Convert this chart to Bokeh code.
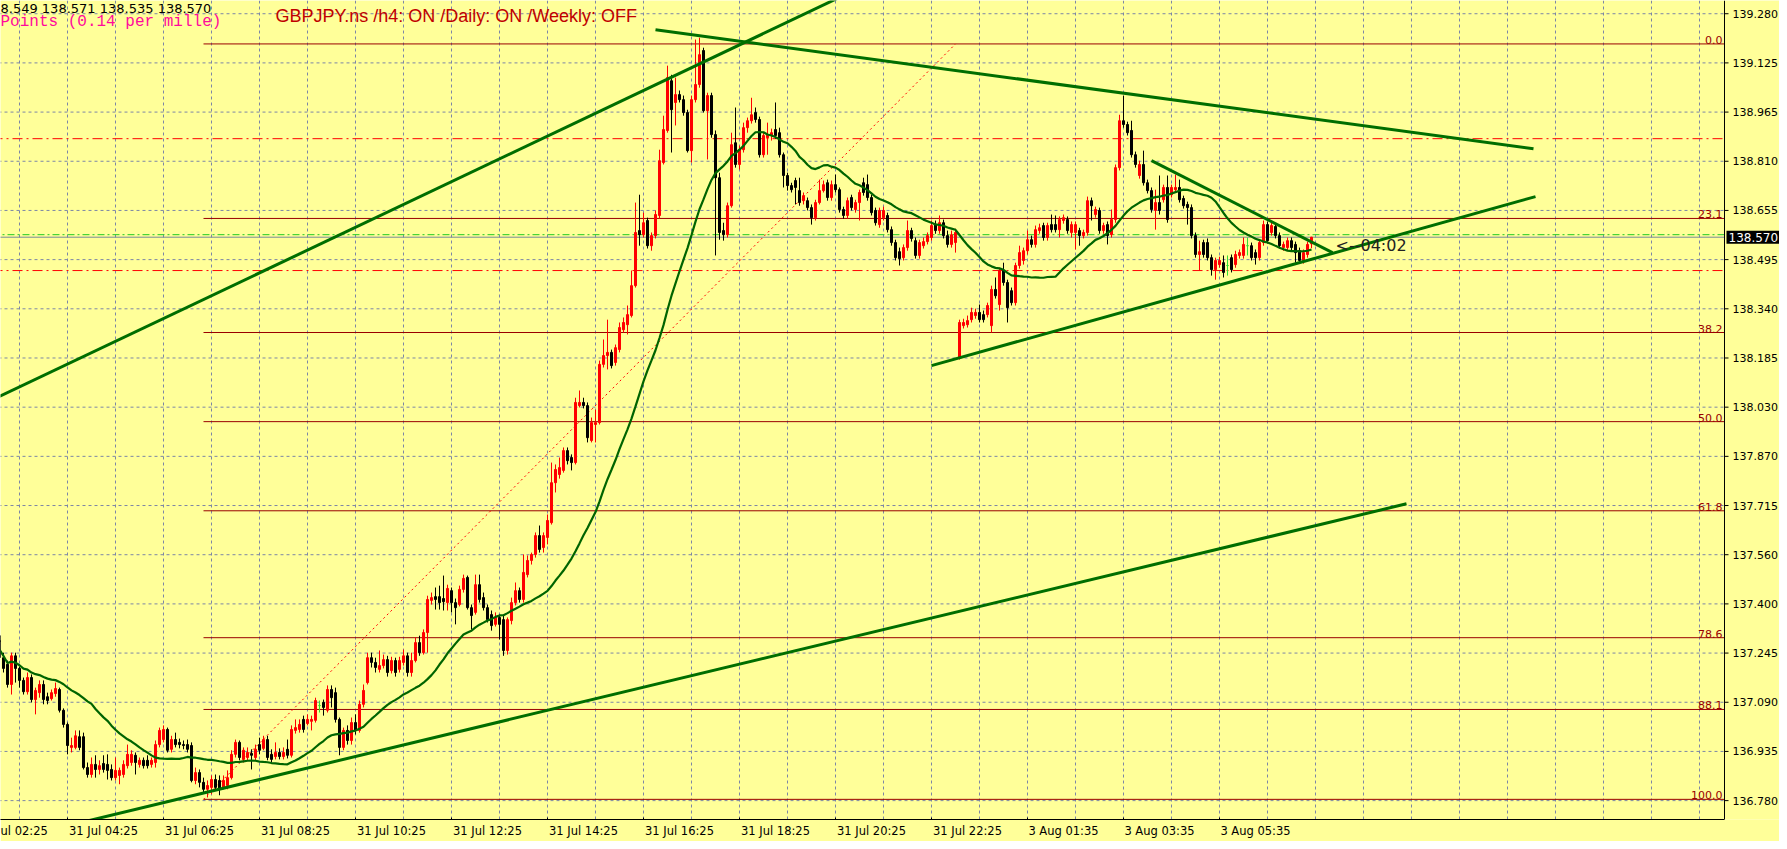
import pandas as pd
from bokeh.plotting import figure
from bokeh.models import Range1d, FixedTicker, Label, ColumnDataSource, Span
from bokeh.embed import file_html
from bokeh.resources import INLINE

# ---------------- data (GBPJPY M5) ----------------
opens = [137.304,137.289,137.234,137.213,137.149,137.240,137.200,137.162,137.126,137.171,
137.101,137.123,137.149,137.110,137.104,137.120,137.133,137.067,137.022,136.949,
136.949,136.983,136.983,136.885,136.863,136.895,136.879,136.898,136.895,136.879,
136.853,136.860,136.863,136.891,136.901,136.924,136.895,136.908,136.908,136.895,
136.901,136.958,136.974,137.006,136.943,136.974,136.965,136.958,136.958,136.955,
136.844,136.869,136.838,136.816,136.822,136.847,136.844,136.822,136.828,136.853,
136.927,136.965,136.911,136.917,136.930,136.917,136.958,136.946,136.974,136.927,
136.920,136.933,136.920,136.943,136.924,137.003,137.006,137.038,137.025,137.032,
137.035,137.082,137.092,137.067,137.133,137.123,137.038,136.949,137.003,136.971,
137.028,137.003,137.086,137.155,137.234,137.219,137.197,137.209,137.228,137.193,
137.225,137.197,137.219,137.240,137.187,137.225,137.282,137.250,137.314,137.416,
137.428,137.428,137.422,137.409,137.447,137.409,137.403,137.451,137.489,137.393,
137.378,137.466,137.425,137.393,137.371,137.340,137.362,137.355,137.257,137.352,
137.409,137.447,137.419,137.498,137.543,137.562,137.622,137.584,137.616,137.663,
137.790,137.816,137.829,137.892,137.870,137.854,138.035,138.045,138.035,137.924,
137.975,137.981,138.166,138.194,138.204,138.172,138.213,138.276,138.292,138.321,
138.416,138.591,138.578,138.623,138.543,138.575,138.639,138.807,138.909,139.067,
138.998,139.023,139.007,138.966,138.845,139.007,139.055,139.163,138.972,139.020,
138.896,138.759,138.591,138.578,138.670,138.870,138.801,138.848,138.918,138.940,
138.966,138.944,138.832,138.886,138.893,138.912,138.902,138.832,138.766,138.734,
138.750,138.718,138.686,138.686,138.664,138.632,138.680,138.718,138.743,138.696,
138.737,138.721,138.658,138.639,138.696,138.658,138.680,138.743,138.737,138.696,
138.655,138.610,138.632,138.639,138.594,138.553,138.524,138.505,138.537,138.591,
138.559,138.512,138.543,138.556,138.569,138.610,138.591,138.616,138.575,138.547,
138.553,138.188,138.289,138.292,138.308,138.321,138.331,138.324,138.324,138.289,
138.404,138.356,138.464,138.426,138.400,138.362,138.480,138.496,138.527,138.562,
138.547,138.591,138.607,138.569,138.610,138.610,138.594,138.623,138.626,138.585,
138.585,138.591,138.575,138.585,138.686,138.642,138.655,138.591,138.610,138.578,
138.626,138.791,138.940,138.928,138.909,138.832,138.766,138.801,138.743,138.718,
138.655,138.680,138.689,138.728,138.705,138.721,138.728,138.693,138.674,138.664,
138.575,138.515,138.553,138.553,138.505,138.467,138.483,138.489,138.480,138.505,
138.483,138.512,138.512,138.543,138.543,138.521,138.505,138.553,138.610,138.585,
138.604,138.575,138.537,138.537,138.559,138.547,138.527,138.496,138.515,138.549]

highs = [137.336,137.353,137.250,137.225,137.250,137.250,137.206,137.171,137.187,137.181,
137.139,137.162,137.162,137.123,137.133,137.155,137.139,137.073,137.028,136.980,
137.003,137.003,136.996,136.901,136.917,136.924,136.908,136.924,136.927,136.895,
136.917,136.885,136.908,136.958,136.940,136.933,136.917,136.917,136.924,136.917,
136.971,137.012,137.019,137.012,136.986,136.996,136.977,136.971,136.974,136.965,
136.885,136.879,136.853,136.844,136.860,136.863,136.860,136.860,136.876,136.940,
136.974,136.971,136.949,136.949,136.943,136.958,136.980,136.986,136.986,136.943,
136.965,136.946,136.949,136.974,137.019,137.038,137.038,137.050,137.054,137.050,
137.107,137.098,137.101,137.146,137.146,137.139,137.044,137.012,137.019,137.044,
137.054,137.098,137.149,137.250,137.250,137.234,137.257,137.244,137.240,137.237,
137.234,137.237,137.260,137.250,137.250,137.298,137.304,137.324,137.431,137.441,
137.457,137.463,137.495,137.466,137.457,137.422,137.463,137.498,137.495,137.403,
137.498,137.498,137.441,137.403,137.384,137.378,137.371,137.368,137.362,137.425,
137.473,137.457,137.562,137.559,137.568,137.632,137.654,137.632,137.689,137.854,
137.848,137.870,137.902,137.902,137.880,138.060,138.083,138.060,138.045,137.997,
138.022,138.178,138.245,138.308,138.213,138.229,138.299,138.315,138.353,138.464,
138.680,138.705,138.648,138.632,138.585,138.655,138.848,138.956,139.115,139.086,
139.077,139.036,139.020,138.975,139.020,139.198,139.204,139.172,139.029,139.029,
138.909,138.775,138.616,138.680,138.902,138.982,138.861,138.934,138.950,139.013,
138.982,138.953,138.902,138.934,138.915,138.998,138.918,138.839,138.775,138.743,
138.759,138.759,138.712,138.696,138.674,138.689,138.753,138.750,138.753,138.750,
138.769,138.728,138.667,138.696,138.705,138.689,138.721,138.759,138.769,138.705,
138.664,138.664,138.667,138.648,138.604,138.562,138.537,138.547,138.623,138.600,
138.569,138.562,138.569,138.585,138.623,138.623,138.639,138.626,138.591,138.591,
138.597,138.308,138.311,138.321,138.346,138.343,138.356,138.337,138.362,138.416,
138.442,138.473,138.489,138.435,138.410,138.489,138.543,138.537,138.591,138.575,
138.607,138.613,138.616,138.616,138.642,138.639,138.636,138.642,138.636,138.620,
138.620,138.600,138.594,138.699,138.696,138.667,138.664,138.616,138.620,138.658,
138.801,138.959,139.020,138.937,138.940,138.842,138.813,138.845,138.753,138.728,
138.721,138.766,138.737,138.766,138.737,138.769,138.753,138.702,138.683,138.674,
138.585,138.559,138.562,138.566,138.515,138.505,138.508,138.512,138.512,138.515,
138.527,138.531,138.569,138.569,138.553,138.531,138.562,138.623,138.620,138.616,
138.613,138.585,138.556,138.569,138.569,138.556,138.537,138.531,138.556,138.571]

lows = [137.276,137.228,137.187,137.139,137.117,137.155,137.139,137.117,137.117,137.092,
137.054,137.107,137.086,137.086,137.098,137.110,137.060,137.012,136.927,136.933,
136.943,136.940,136.879,136.853,136.853,136.853,136.863,136.869,136.847,136.844,
136.844,136.832,136.853,136.882,136.891,136.863,136.885,136.882,136.882,136.885,
136.885,136.949,136.965,136.933,136.933,136.949,136.946,136.943,136.933,136.838,
136.832,136.822,136.806,136.790,136.800,136.812,136.797,136.816,136.816,136.847,
136.917,136.908,136.901,136.908,136.879,136.908,136.927,136.940,136.908,136.901,
136.911,136.911,136.911,136.914,136.917,136.993,136.996,136.996,137.019,137.003,
137.028,137.060,137.050,137.060,137.076,137.028,136.924,136.940,136.958,136.958,
136.990,136.996,137.076,137.149,137.203,137.187,137.187,137.200,137.174,137.184,
137.174,137.187,137.209,137.174,137.174,137.219,137.240,137.244,137.250,137.403,
137.387,137.387,137.384,137.384,137.378,137.340,137.397,137.441,137.387,137.324,
137.371,137.409,137.384,137.346,137.320,137.333,137.292,137.240,137.244,137.340,
137.400,137.409,137.409,137.489,137.530,137.552,137.568,137.568,137.594,137.657,
137.759,137.803,137.822,137.848,137.829,137.848,138.029,138.026,137.918,137.918,
137.918,137.975,138.156,138.150,138.153,138.162,138.204,138.267,138.261,138.315,
138.410,138.543,138.569,138.534,138.527,138.566,138.629,138.801,138.902,138.839,
138.925,138.998,138.956,138.839,138.807,138.998,139.045,138.966,138.817,138.886,
138.512,138.562,138.559,138.569,138.664,138.791,138.785,138.839,138.902,138.931,
138.934,138.823,138.823,138.832,138.877,138.883,138.823,138.728,138.718,138.712,
138.674,138.670,138.674,138.655,138.610,138.623,138.674,138.712,138.686,138.686,
138.712,138.648,138.629,138.629,138.655,138.648,138.623,138.702,138.686,138.639,
138.607,138.600,138.623,138.585,138.543,138.496,138.480,138.496,138.527,138.556,
138.502,138.502,138.534,138.547,138.559,138.581,138.581,138.566,138.537,138.537,
138.521,138.181,138.280,138.283,138.299,138.311,138.299,138.299,138.315,138.267,
138.375,138.337,138.416,138.299,138.353,138.353,138.470,138.483,138.515,138.537,
138.537,138.581,138.559,138.559,138.585,138.585,138.569,138.613,138.581,138.569,
138.531,138.543,138.566,138.575,138.623,138.632,138.581,138.581,138.547,138.569,
138.616,138.782,138.918,138.893,138.823,138.791,138.756,138.734,138.709,138.648,
138.594,138.642,138.680,138.616,138.696,138.712,138.680,138.661,138.610,138.566,
138.505,138.464,138.505,138.496,138.448,138.435,138.473,138.442,138.448,138.458,
138.473,138.502,138.502,138.512,138.496,138.483,138.496,138.543,138.550,138.575,
138.566,138.534,138.527,138.527,138.527,138.489,138.486,138.486,138.505,138.535]

closes = [137.285,137.234,137.200,137.149,137.240,137.200,137.162,137.126,137.171,137.101,
137.130,137.149,137.101,137.098,137.123,137.136,137.067,137.022,136.955,136.955,
136.986,136.949,136.885,136.863,136.895,136.879,136.891,136.879,136.876,136.853,
136.876,136.876,136.895,136.927,136.927,136.901,136.908,136.891,136.891,136.908,
136.958,137.003,137.006,136.940,136.974,136.958,136.958,136.955,136.943,136.844,
136.869,136.838,136.816,136.828,136.847,136.822,136.819,136.844,136.853,136.927,
136.965,136.917,136.940,136.933,136.924,136.943,136.940,136.974,136.917,136.911,
136.933,136.920,136.933,136.924,137.006,137.012,137.022,137.006,137.038,137.038,
137.098,137.082,137.076,137.133,137.107,137.038,136.949,137.003,136.971,137.028,
137.003,137.086,137.130,137.234,137.219,137.203,137.209,137.228,137.187,137.225,
137.187,137.225,137.240,137.187,137.225,137.282,137.250,137.314,137.419,137.425,
137.419,137.409,137.412,137.454,137.409,137.393,137.451,137.486,137.393,137.368,
137.466,137.419,137.393,137.355,137.336,137.362,137.340,137.257,137.355,137.409,
137.447,137.419,137.505,137.543,137.562,137.622,137.578,137.622,137.670,137.790,
137.832,137.838,137.892,137.860,137.854,138.045,138.045,138.035,137.933,137.981,
137.981,138.166,138.194,138.204,138.162,138.219,138.283,138.299,138.324,138.416,
138.585,138.578,138.616,138.543,138.575,138.642,138.813,138.912,139.077,138.975,
139.023,139.007,138.966,138.845,139.007,139.055,139.150,138.972,139.020,138.896,
138.759,138.585,138.578,138.670,138.864,138.801,138.848,138.918,138.940,138.959,
138.944,138.832,138.893,138.896,138.902,138.893,138.832,138.766,138.734,138.721,
138.728,138.680,138.702,138.664,138.632,138.680,138.718,138.737,138.696,138.737,
138.721,138.658,138.639,138.686,138.664,138.680,138.712,138.712,138.696,138.648,
138.616,138.655,138.655,138.594,138.553,138.505,138.502,138.537,138.591,138.566,
138.512,138.553,138.556,138.575,138.607,138.591,138.616,138.575,138.547,138.578,
138.585,138.299,138.299,138.305,138.331,138.331,138.308,138.308,138.353,138.404,
138.384,138.464,138.426,138.346,138.362,138.480,138.521,138.527,138.562,138.547,
138.594,138.600,138.569,138.607,138.594,138.594,138.626,138.632,138.591,138.610,
138.610,138.575,138.585,138.686,138.670,138.658,138.591,138.607,138.575,138.626,
138.791,138.940,138.928,138.902,138.832,138.801,138.801,138.743,138.718,138.658,
138.680,138.655,138.728,138.626,138.728,138.728,138.689,138.670,138.664,138.575,
138.515,138.524,138.515,138.505,138.467,138.496,138.496,138.458,138.480,138.467,
138.515,138.521,138.547,138.543,138.505,138.505,138.553,138.610,138.559,138.607,
138.575,138.543,138.547,138.559,138.537,138.521,138.496,138.521,138.547,138.570]

bars = list(range(len(closes)))

ytick_labels = ["136.780", "136.935", "137.090", "137.245", "137.400", "137.560", "137.715",
                "137.870", "138.030", "138.185", "138.340", "138.495", "138.655", "138.810",
                "138.965", "139.125", "139.280"]
ytick_base, ytick_step = 136.780, 0.15625

# first label is cut at the chart's left edge in the original ("31 Jul 02:25")
xtick_labels = ["ul 02:25", "31 Jul 04:25", "31 Jul 06:25", "31 Jul 08:25", "31 Jul 10:25",
                "31 Jul 12:25", "31 Jul 14:25", "31 Jul 16:25", "31 Jul 18:25", "31 Jul 20:25",
                "31 Jul 22:25", "3 Aug 01:35", "3 Aug 03:35", "3 Aug 05:35"]
xtick_bars = [-6, 18, 42, 66, 90, 114, 138, 162, 186, 210, 234, 258, 282, 306]

fib_levels = [0.0, 23.1, 38.2, 50.0, 61.8, 78.6, 88.1, 100.0]
fib_labels = ["0.0", "23.1", "38.2", "50.0", "61.8", "78.6", "88.1", "100.0"]
fib_high, fib_low = 139.184, 136.784
fib_anchor_low_bar, fib_anchor_high_bar = 52, 240

# trendlines: (bar, price) anchor pairs
trendlines = [
    ((-1, 138.052), (224.25, 139.412)),
    ((23.5, 136.717), (352.75, 137.723)),
    ((165, 139.229), (384.5, 138.851)),
    ((234, 138.162), (385, 138.699)),
    ((289, 138.813), (334.25, 138.521)),
]
red_levels = [138.883, 138.464]
green_level = 138.578
bid = 138.570
ma_period = 25

# ---------------- layout constants ----------------
BG = "#FFFF99"
GRID = "#7c86a6"
FONT = "DejaVu Sans"
X_LEFT, X_EDGE, X_RIGHT = 1.25, 432.25, 446.0   # bar units: frame left, price-scale edge, canvas right
Y_BOT, Y_TOP = 136.720, 139.322

p = figure(frame_width=1779, frame_height=819,
           x_range=Range1d(X_LEFT, X_RIGHT), y_range=Range1d(Y_BOT, Y_TOP),
           output_backend="svg", toolbar_location=None,
           y_axis_location=None, x_axis_location="below",
           min_border_left=0, min_border_top=0, min_border_right=0, min_border_bottom=22,
           background_fill_color=BG, border_fill_color=BG, outline_line_color=None)

# x axis (labels start at their tick, as in the terminal)
xlab_pos = [b + 9.0 for b in xtick_bars]
xlab_pos[0] = 4.9
p.xaxis.ticker = FixedTicker(ticks=xlab_pos)
p.xaxis.major_label_overrides = {t: s for t, s in zip(xlab_pos, xtick_labels)}
p.xaxis.bounds = (X_LEFT, X_EDGE)
p.xaxis.major_tick_line_color = None
p.xaxis.major_tick_out = 0
p.xaxis.major_tick_in = 0
p.xaxis.minor_tick_line_color = None
p.xaxis.axis_line_color = "black"
p.xaxis.major_label_standoff = 4
p.xaxis.major_label_text_font = FONT
p.xaxis.major_label_text_font_size = "11.5px"
p.xaxis.major_label_text_color = "black"

# small tick marks under the time labels
tb = [b for b in xtick_bars if b >= X_LEFT]
p.segment(x0=tb, x1=tb, y0=[Y_BOT] * len(tb), y1=[Y_BOT + 0.006] * len(tb),
          line_color="black", line_width=1)

p.xgrid.ticker = FixedTicker(ticks=list(range(6, 433, 12)))
p.xgrid.grid_line_color = GRID
p.xgrid.grid_line_dash = "3 3"
p.ygrid.visible = False

# price scale drawn on the canvas
yticks = [ytick_base + k * ytick_step for k in range(len(ytick_labels))]
n = len(yticks)
p.segment(x0=[X_LEFT - 2] * n, x1=[X_EDGE] * n, y0=yticks, y1=yticks,
          line_color=GRID, line_dash="3 3", line_width=1)
p.segment(x0=[X_EDGE] * n, x1=[X_EDGE + 1] * n, y0=yticks, y1=yticks,
          line_color="black", line_width=1)
p.add_layout(Span(location=X_EDGE, dimension="height", line_color="black", line_width=1))
for t, s in zip(yticks, ytick_labels):
    p.add_layout(Label(x=X_EDGE + 2, y=t, text=s, text_baseline="middle", text_align="left",
                       text_color="black", text_font=FONT, text_font_size="11px"))

# fibonacci retracement
fib_prices = [fib_high - lv / 100.0 * (fib_high - fib_low) for lv in fib_levels]
m = len(fib_prices)
p.segment(x0=[fib_anchor_low_bar] * m, x1=[X_EDGE] * m, y0=fib_prices, y1=fib_prices,
          line_color="#990000", line_width=1)
p.line([fib_anchor_low_bar, fib_anchor_high_bar], [fib_low, fib_high],
       line_color="#FF0000", line_dash="2 3", line_width=1)
for lv, pr in zip(fib_labels, fib_prices):
    p.add_layout(Label(x=X_EDGE - 0.5, y=pr, text=lv, text_align="right", text_baseline="bottom",
                       text_color="#990000", text_font=FONT, text_font_size="11px"))

# horizontal levels
p.segment(x0=[X_LEFT - 2] * 2, x1=[X_EDGE] * 2, y0=red_levels, y1=red_levels,
          line_color="#FF0000", line_dash="10 4 2 4", line_width=1)
p.segment(x0=[X_LEFT - 2], x1=[X_EDGE], y0=[green_level], y1=[green_level],
          line_color="#22CC22", line_dash="7 3 2 3", line_width=1)
p.segment(x0=[X_LEFT - 2], x1=[X_EDGE], y0=[bid], y1=[bid],
          line_color="#778899", line_width=1)

# candles
colors = ["#FF0000" if c > o else ("#000000" if c < o else "#33DD33") for o, c in zip(opens, closes)]
hi = [max(h, o, c) for h, o, c in zip(highs, opens, closes)]
lo = [min(l, o, c) for l, o, c in zip(lows, opens, closes)]
src = ColumnDataSource(dict(x=bars, o=opens, c=closes, h=hi, l=lo,
                            top=[max(o, c) for o, c in zip(opens, closes)],
                            bottom=[min(o, c) for o, c in zip(opens, closes)],
                            color=colors))
p.segment(x0="x", x1="x", y0="h", y1="l", line_color="color", line_width=1, source=src)
p.vbar(x="x", top="top", bottom="bottom", width=0.5, fill_color="color",
       line_color="color", line_width=1, source=src)

# moving average
ma = pd.Series(closes).rolling(ma_period, min_periods=1).mean()
p.line(bars, ma.tolist(), line_color="#006400", line_width=2.2)

# trendlines
for (x0, y0), (x1, y1) in trendlines:
    p.line([x0, x1], [y0, y1], line_color="#006E00", line_width=3)

# texts
p.add_layout(Label(x=X_LEFT, y=Y_TOP, text="8.549 138.571 138.535 138.570",
                   text_baseline="top", text_color="black", text_font=FONT,
                   text_font_size="13px"))
p.add_layout(Label(x=X_LEFT, y=139.255, text="Points (0.14 per mille)",
                   text_baseline="middle", text_color="#FF0A9C", text_font="Liberation Mono",
                   text_font_size="16px"))
p.add_layout(Label(x=70, y=139.274, text="GBPJPY.ns /h4: ON /Daily: ON /Weekly: OFF",
                   text_baseline="middle", text_color="#C00000", text_font="Liberation Sans",
                   text_font_size="18px"))
p.add_layout(Label(x=335, y=138.543, text="<--04:02", text_baseline="middle",
                   text_color="#222222", text_font=FONT, text_font_size="16px"))
price_box = Label(x=X_EDGE + 0.5, y=bid, text="138.570", text_baseline="middle",
                  text_color="white", background_fill_color="black",
                  text_font=FONT, text_font_size="12px")
try:
    price_box.padding = 2
except Exception:
    pass
p.add_layout(price_box)

open("out.html", "w").write(file_html(p, INLINE))
